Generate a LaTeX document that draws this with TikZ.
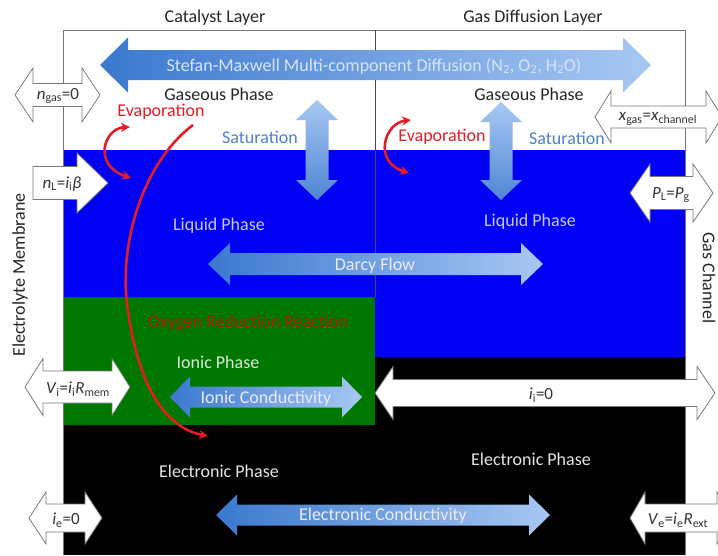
\documentclass[tikz,border=0pt]{standalone}
\usepackage{fontspec}
\setmainfont{Carlito}
\usetikzlibrary{arrows.meta}

\definecolor{plblue}{RGB}{0,0,242}
\definecolor{plgreen}{RGB}{0,120,0}
\definecolor{arrdark}{RGB}{58,120,206}
\definecolor{arrlight}{RGB}{168,200,243}
\definecolor{satblue}{RGB}{78,128,200}
\definecolor{evapred}{RGB}{228,28,36}
\definecolor{orrred}{RGB}{180,30,0}
\definecolor{framegray}{RGB}{120,120,120}

% arrow outlines: [style]{x1}{x2}{y}{half shaft}{half head}{head length}
\newcommand{\hdarrow}[7][]{\path[#1] (#2,#4) -- ({#2+#7},{#4-#6}) -- ({#2+#7},{#4-#5}) -- ({#3-#7},{#4-#5}) -- ({#3-#7},{#4-#6}) -- (#3,#4) -- ({#3-#7},{#4+#6}) -- ({#3-#7},{#4+#5}) -- ({#2+#7},{#4+#5}) -- ({#2+#7},{#4+#6}) -- cycle;}
% [style]{x}{y1}{y2}{half shaft}{half head}{head length}
\newcommand{\vdarrow}[7][]{\path[#1] (#2,#3) -- ({#2-#6},{#3+#7}) -- ({#2-#5},{#3+#7}) -- ({#2-#5},{#4-#7}) -- ({#2-#6},{#4-#7}) -- (#2,#4) -- ({#2+#6},{#4-#7}) -- ({#2+#5},{#4-#7}) -- ({#2+#5},{#3+#7}) -- ({#2+#6},{#3+#7}) -- cycle;}
\newcommand{\rsarrow}[7][]{\path[#1] (#2,{#4-#5}) -- ({#3-#7},{#4-#5}) -- ({#3-#7},{#4-#6}) -- (#3,#4) -- ({#3-#7},{#4+#6}) -- ({#3-#7},{#4+#5}) -- (#2,{#4+#5}) -- cycle;}

\tikzset{
  lbl/.style={font=\fontsize{18}{20}\selectfont, inner sep=0pt, text=black!85},
  eq/.style={font=\fontsize{17}{19}\selectfont, inner sep=0pt, text=black!80},
  barrow/.style={left color=arrdark, right color=arrlight},
  varrow/.style={top color=arrlight, bottom color=arrdark!90},
  warrow/.style={fill=white, draw=framegray, line width=0.8pt},
  evap/.style={draw=evapred, line width=2.6pt, >={Stealth[length=9pt,width=9pt]}},
}

\begin{document}
\begin{tikzpicture}[x=1pt, y=-1pt]
\useasboundingbox (0,0) rectangle (718,555);

% phase regions
\fill[plblue] (63,150) rectangle (685,357);
\fill[black] (63,357) rectangle (685,555);
\fill[plgreen] (63,297) rectangle (375,425);
\draw[framegray, line width=0.9pt] (63,555) -- (63,30) -- (685,30) -- (685,555);
\draw[framegray!60!black, line width=0.9pt] (375,30) -- (375,297);

\node[lbl] (catalyst) at (215,18) {Catalyst Layer};
\node[lbl] (gdl) at (533,18) {Gas Diffusion Layer};
\node[lbl, rotate=90] (membrane) at (20,275) {Electrolyte Membrane};
\node[lbl, rotate=-90] (channel) at (709,278) {Gas Channel};

% transport arrows
\hdarrow[barrow]{100}{651}{65}{15}{27.5}{28}
\node[lbl, text={rgb,255:red,215;green,228;blue,248}] (smdiff) at (374,66) {Stefan-Maxwell Multi-component Diffusion (N\textsubscript{2}, O\textsubscript{2}, H\textsubscript{2}O)};
\vdarrow[varrow]{317}{100}{200}{11.5}{21}{20}
\vdarrow[varrow]{501}{102}{200}{11.5}{21}{20}
\hdarrow[barrow]{208}{543}{264}{11}{21}{22}
\node[lbl, text=white!92!blue] (darcy) at (375,266) {Darcy Flow};
\hdarrow[barrow]{170}{362}{397}{10.5}{20.5}{20}
\node[lbl, text=white!92!blue] (ionicc) at (266,399) {Ionic Conductivity};
\hdarrow[barrow]{216}{550}{515}{10.5}{20.5}{21}
\node[lbl, text=white!92!blue] (elecc) at (383,516) {Electronic Conductivity};

% phase labels
\node[lbl] (gasL) at (219,94) {Gaseous Phase};
\node[lbl] (gasR) at (529,94) {Gaseous Phase};
\node[lbl, text=satblue] (satL) at (260,137) {Saturation};
\node[lbl, text=satblue] (satR) at (567,138) {Saturation};
\node[lbl, text=evapred] (evapL) at (161,112) {Evaporation};
\node[lbl, text=evapred] (evapR) at (442,137) {Evaporation};
\node[lbl, text={rgb,255:red,200;green,200;blue,255}] (liqL) at (219,226) {Liquid Phase};
\node[lbl, text={rgb,255:red,200;green,200;blue,255}] (liqR) at (530,222) {Liquid Phase};
\node[lbl, text=orrred] (orr) at (248,323) {Oxygen Reduction Reaction};
\node[lbl, text={rgb,255:red,215;green,235;blue,215}] (ionic) at (218,362) {Ionic Phase};
\node[lbl, text=black!10] (elecL) at (219,471) {Electronic Phase};
\node[lbl, text=black!10] (elecR) at (531,459) {Electronic Phase};

% boundary conditions
\hdarrow[warrow]{15}{100}{95}{11.5}{27}{18}
\node[eq] (ngas) at (58,96) {\textit{n}\textsubscript{gas}=0};
\hdarrow[warrow]{595}{722}{117}{11}{26}{16}
\node[eq] (xgas) at (658,119) {\textit{x}\textsubscript{gas}=\textit{x}\textsubscript{channel}};
\rsarrow[warrow]{33}{108}{183}{16.5}{30}{31}
\node[eq] (nL) at (62,184) {\textit{n}\textsubscript{L}=\textit{i}\textsubscript{i}\textit{β}};
\hdarrow[warrow]{630}{713}{193}{16.5}{29}{20}
\node[eq] (PL) at (671,195) {\textit{P}\textsubscript{L}=\textit{P}\textsubscript{g}};
\hdarrow[warrow]{25}{130}{387}{16}{28.5}{18}
\node[eq] (Vi) at (78,389) {\textit{V}\textsubscript{i}=\textit{i}\textsubscript{i}\textit{R}\textsubscript{mem}};
\hdarrow[warrow]{375}{715}{393}{13.5}{26.5}{18}
\node[eq] (ii) at (541,395) {\textit{i}\textsubscript{i}=0};
\hdarrow[warrow]{29}{102}{518}{14}{26}{17}
\node[eq] (ie) at (66,520) {\textit{i}\textsubscript{e}=0};
\hdarrow[warrow]{630}{732}{518}{14}{26}{15}
\node[eq] (Ve) at (678,520) {\textit{V}\textsubscript{e}=\textit{i}\textsubscript{e}\textit{R}\textsubscript{ext}};

% evaporation / water path
\coordinate (cL1) at (130,127);
\coordinate (cL2) at (131,178);
\coordinate (cR1) at (411,120);
\coordinate (cR2) at (409,173);
\coordinate (wtop) at (193,125);
\coordinate (wend) at (208,436);
\draw[evap, <->] (cL1) .. controls (104,128) and (92,165) .. (cL2);
\draw[evap, <->] (cR1) .. controls (384,123) and (373,162) .. (cR2);
\draw[evap, ->] (wtop) .. controls (140,165) and (118,250) .. (128,310) .. controls (138,385) and (165,428) .. (wend);
\end{tikzpicture}
\end{document}
